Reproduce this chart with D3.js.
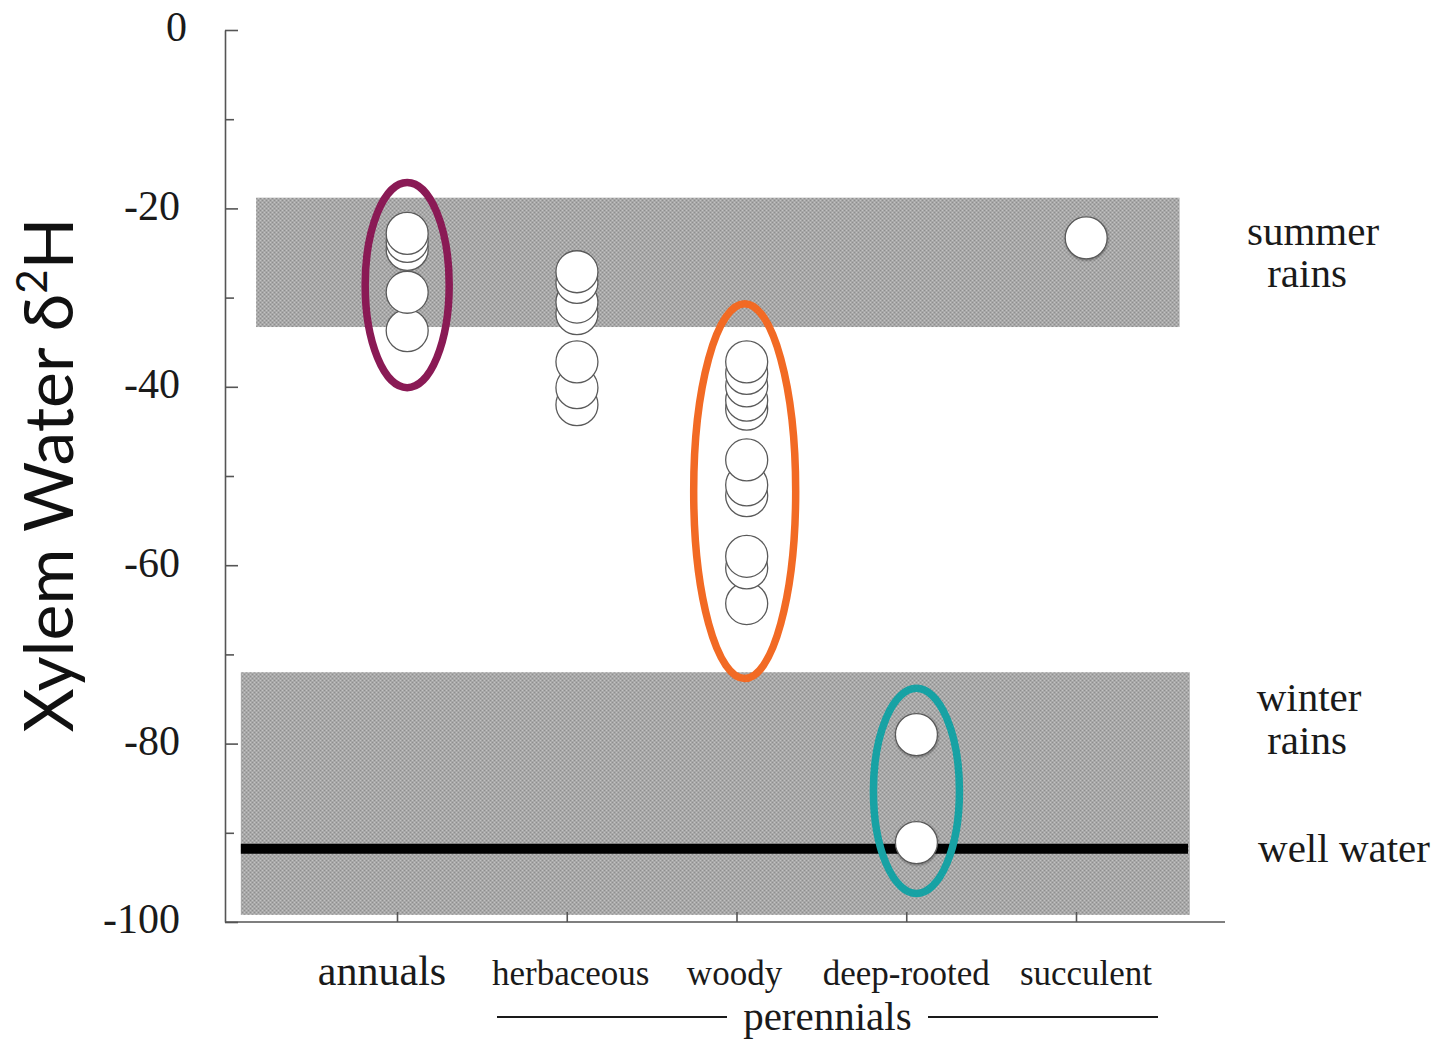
<!DOCTYPE html>
<html>
<head>
<meta charset="utf-8">
<script src="https://cdn.jsdelivr.net/npm/d3@7"></script>
<style>
  html, body { margin: 0; padding: 0; background: #fff; }
  svg { display: block; }
</style>
</head>
<body>
<svg id="chart" width="1454" height="1039"></svg>
<script>
// Plant groups along the x axis
const categories = ["annuals", "herbaceous", "woody", "deep-rooted", "succulent"];

// Xylem water δ2H of individual plants, per group
const annuals    = [-22.8, -23.7, -24.6, -29.4, -33.7];
const herbaceous = [-27.1, -28.3, -30.5, -31.8, -37.2, -40.1, -42.0];
const woody      = [-37.2, -38.5, -39.9, -41.5, -42.5, -48.2, -51.0, -52.2, -59.0, -60.3, -64.3];
const deepRooted = [-79.0, -91.1];
const succulent  = [-23.3];

// Source water ranges
const summerRains = [-33.3, -18.8];
const winterRains = [-99.2, -72.0];
const wellWater   = -91.8;

// Highlighted groups: value centre and half-range of each ring
const highlightGroups = ["annuals", "woody", "deep-rooted"];
const highlightCentre = [-28.6, -51.7, -85.3];
const highlightHalf   = [11.5, 21.0, 11.5];

// Axis ticks
const yMajorTicks = [0, -20, -40, -60, -80, -100];
const yMinorTicks = [-10, -30, -50, -70, -90];

// ---------------------------------------------------------------
const svg = d3.select("#chart");
const serif = "'Liberation Serif', 'Times New Roman', serif";

const plotLeft = 225, plotRight = 1225, plotTop = 30, plotBottom = 922;

const y = d3.scaleLinear().domain([-100, 0]).range([plotBottom, plotTop]);
const x = d3.scaleLinear().domain([0, 5.88]).range([227.25, 227.25 + 5.88 * 169.75]);
const catPos = c => categories.indexOf(c) + 1;
const dotShift = 0.06;   // points sit just right of their tick

// stippled grey fill for the source bands
const defs = svg.append("defs");
const pat = defs.append("pattern")
  .attr("id", "stipple").attr("patternUnits", "userSpaceOnUse")
  .attr("width", 4).attr("height", 4);
pat.append("rect").attr("width", 4).attr("height", 4).attr("fill", "#a8a8a8");
pat.append("rect").attr("x", 0).attr("y", 0).attr("width", 1).attr("height", 1).attr("fill", "#c2c2c2");
pat.append("rect").attr("x", 2).attr("y", 2).attr("width", 1).attr("height", 1).attr("fill", "#c2c2c2");
pat.append("rect").attr("x", 2).attr("y", 0).attr("width", 1).attr("height", 1).attr("fill", "#8e8e8e");
pat.append("rect").attr("x", 0).attr("y", 2).attr("width", 1).attr("height", 1).attr("fill", "#8e8e8e");

const shadow = defs.append("filter").attr("id", "softshadow")
  .attr("x", "-30%").attr("y", "-30%").attr("width", "160%").attr("height", "160%");
shadow.append("feDropShadow").attr("dx", 0.5).attr("dy", 1).attr("stdDeviation", 1.2)
  .attr("flood-color", "#000").attr("flood-opacity", 0.35);

// bands
const bands = [
  { range: summerRains, x0: 0.17, x1: 5.61 },
  { range: winterRains, x0: 0.08, x1: 5.67 }
];
svg.append("g").selectAll("rect").data(bands).join("rect")
  .attr("x", d => x(d.x0))
  .attr("width", d => x(d.x1) - x(d.x0))
  .attr("y", d => y(d.range[1]))
  .attr("height", d => y(d.range[0]) - y(d.range[1]))
  .attr("fill", "url(#stipple)");

// well water line
svg.append("line")
  .attr("x1", x(0.08)).attr("x2", x(5.66))
  .attr("y1", y(wellWater)).attr("y2", y(wellWater))
  .attr("stroke", "#000").attr("stroke-width", 10);

// axes
const axisColor = "#555";
const yAxis = svg.append("g").attr("transform", `translate(${plotLeft},0)`)
  .call(d3.axisLeft(y).tickValues(yMajorTicks).tickSizeInner(-13).tickSizeOuter(0)
    .tickPadding(45).tickFormat(d => String(d)));
yAxis.select(".domain").attr("stroke", axisColor).attr("stroke-width", 1.6);
yAxis.selectAll(".tick line").attr("stroke", axisColor).attr("stroke-width", 1.6);
yAxis.selectAll(".tick text")
  .attr("font-family", serif).attr("font-size", 42).attr("fill", "#1a1a1a")
  .attr("dy", "0.26em")
  .attr("dx", d => d === 0 ? 7 : 0);

const yMinor = svg.append("g").attr("transform", `translate(${plotLeft},0)`)
  .call(d3.axisLeft(y).tickValues(yMinorTicks).tickSizeInner(-9).tickSizeOuter(0).tickFormat(""));
yMinor.select(".domain").remove();
yMinor.selectAll(".tick line").attr("stroke", axisColor).attr("stroke-width", 1.6);

const xAxis = svg.append("g").attr("transform", `translate(0,${plotBottom})`)
  .call(d3.axisBottom(x)
    .tickValues(categories.map(catPos)).tickSizeInner(-10).tickSizeOuter(0).tickFormat(""));
xAxis.select(".domain").attr("d", `M${plotLeft},0H${plotRight}`)
  .attr("stroke", axisColor).attr("stroke-width", 1.6);
xAxis.selectAll(".tick line").attr("stroke", axisColor).attr("stroke-width", 1.6);

// points
const groups = [
  { cat: "annuals", vals: annuals },
  { cat: "herbaceous", vals: herbaceous },
  { cat: "woody", vals: woody },
  { cat: "deep-rooted", vals: deepRooted },
  { cat: "succulent", vals: succulent }
];
const pts = groups.flatMap(g =>
  g.vals.slice().sort((a, b) => a - b).map(v => ({ cat: g.cat, v })));
svg.append("g").selectAll("circle").data(pts).join("circle")
  .attr("cx", d => x(catPos(d.cat) + dotShift))
  .attr("cy", d => y(d.v))
  .attr("r", 21)
  .attr("fill", "#fff")
  .attr("stroke", "#5a5a5a")
  .attr("stroke-width", 1.3)
  .attr("filter", d => (d.cat === "deep-rooted" || d.cat === "succulent") ? "url(#softshadow)" : null);

// highlight rings
const ringColors = ["#8a1a55", "#f26a24", "#17a2a4"];
const ringRx = [42, 51, 43];
svg.append("g").selectAll("ellipse").data(highlightGroups).join("ellipse")
  .attr("cx", (c, i) => x(catPos(c) + dotShift) + (i === 1 ? -2 : 0))
  .attr("cy", (c, i) => y(highlightCentre[i]))
  .attr("rx", (c, i) => ringRx[i])
  .attr("ry", (c, i) => y(highlightCentre[i] - highlightHalf[i]) - y(highlightCentre[i]))
  .attr("fill", "none")
  .attr("stroke", (c, i) => ringColors[i])
  .attr("stroke-width", 7.5);

// category labels
const labelSize = [42, 35, 35, 35, 35];
const labelDx = [-15, 4, -2, 0, 10];
svg.append("g").selectAll("text").data(categories).join("text")
  .attr("x", (c, i) => x(catPos(c)) + labelDx[i])
  .attr("y", 985)
  .attr("text-anchor", "middle")
  .attr("font-family", serif)
  .attr("font-size", (c, i) => labelSize[i])
  .attr("fill", "#1a1a1a")
  .text(c => c);

// perennials bracket
const perX = (x(catPos("herbaceous")) + x(catPos("succulent"))) / 2 + 6;
svg.append("text")
  .attr("x", perX).attr("y", 1030)
  .attr("text-anchor", "middle")
  .attr("font-family", serif).attr("font-size", 41).attr("fill", "#1a1a1a")
  .text("perennials");
svg.append("g").selectAll("line").data([[497, 727], [928, 1158]]).join("line")
  .attr("x1", d => d[0]).attr("x2", d => d[1])
  .attr("y1", 1017).attr("y2", 1017)
  .attr("stroke", "#1a1a1a").attr("stroke-width", 2.2);

// source labels on the right
const summerMid = (summerRains[0] + summerRains[1]) / 2;
const sideLabels = [
  { t: "summer", x: 1313, y: y(summerMid) - 17 },
  { t: "rains", x: 1307, y: y(summerMid) + 25 },
  { t: "winter", x: 1309, y: y(-76.4) },
  { t: "rains", x: 1307, y: y(-76.4) + 43 },
  { t: "well water", x: 1344, y: y(wellWater) + 13 }
];
svg.append("g").selectAll("text").data(sideLabels).join("text")
  .attr("x", d => d.x).attr("y", d => d.y)
  .attr("text-anchor", "middle")
  .attr("font-family", serif).attr("font-size", 41).attr("fill", "#1a1a1a")
  .text(d => d.t);

// y axis title
const title = svg.append("text")
  .attr("transform", "translate(73,475) rotate(-90)")
  .attr("text-anchor", "middle")
  .attr("font-family", "Lato, 'Open Sans', sans-serif")
  .attr("font-size", 68)
  .attr("fill", "#111");
title.append("tspan").text("Xylem Water δ");
title.append("tspan").attr("font-size", 42).attr("dy", -26).text("2");
title.append("tspan").attr("dy", 26).text("H");
</script>
</body>
</html>
